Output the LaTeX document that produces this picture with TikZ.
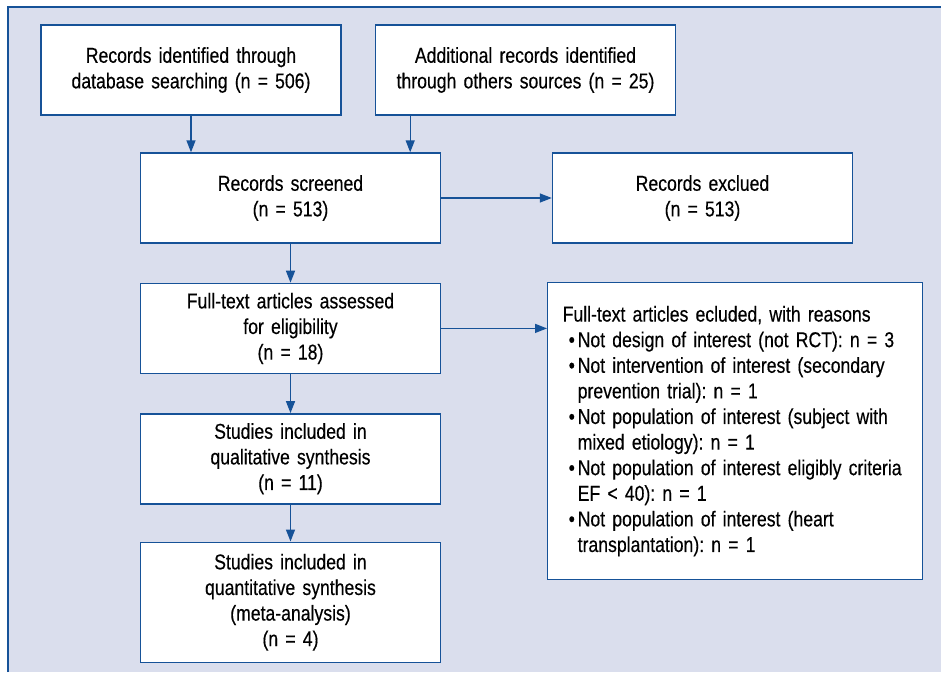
\documentclass[tikz,border=0pt]{standalone}
\usepackage{fontspec}
\setmainfont{Liberation Sans}[FakeStretch=0.82,FakeBold=0.35]
\usepackage{tikz}
\usetikzlibrary{positioning,arrows.meta,calc}

\definecolor{panelfill}{RGB}{218,222,237}
\definecolor{flowblue}{RGB}{22,82,152}

\newcommand{\reasonitem}[1]{\par\hangindent=15pt\hangafter=1\noindent\makebox[15pt][l]{\hspace{6pt}\textbullet}#1}

\begin{document}
\begin{tikzpicture}[
    x=1pt, y=-1pt,
    font=\fontsize{21.5}{25.6}\selectfont\frenchspacing,
    stage/.style={rectangle, draw=flowblue, fill=white, line width=1.4pt, minimum width=300pt, minimum height=90pt, text width=285pt, align=center, inner sep=0pt},
    reasons/.style={rectangle, draw=flowblue, fill=white, line width=1.4pt, minimum height=297pt, text width=345pt, inner xsep=15pt, align=left, anchor=north west},
    flow/.style={draw=flowblue, line width=1.4pt, -{Triangle[length=12pt,width=9pt]}}
]
    % panel
    \useasboundingbox (0,0) rectangle (941,672);
    \fill[panelfill] (8,7) rectangle (941,672);
    \draw[flowblue, line width=1.2pt] (8,672) -- (8,7) -- (941,7);

    % identification
    \node[stage] (dbsearch) at (191,70) {Records identified through\\database searching (n = 506)};
    \node[stage] (othersrc) at (525.5,70) {Additional records identified\\through others sources (n = 25)};

    % screening
    \node[stage] (screened) at (290.5,198) {Records screened\\(n = 513)};
    \node[stage] (excluded) at (702.5,198) {Records exclued\\(n = 513)};

    % eligibility and inclusion
    \node[stage, below=39pt of screened] (fulltext) {Full-text articles assessed\\for eligibility\\(n = 18)};
    \node[stage, below=39pt of fulltext] (qualit) {Studies included in\\qualitative synthesis\\(n = 11)};
    \node[stage, below=37pt of qualit, minimum height=120pt] (quantit) {Studies included in\\quantitative synthesis\\(meta-analysis)\\(n = 4)};

    \node[reasons] (whyout) at (547,282) {\hyphenpenalty=10000\exhyphenpenalty=10000 Full-text articles ecluded, with reasons
        \reasonitem{Not design of interest (not RCT): n = 3}
        \reasonitem{Not intervention of interest (secondary prevention trial): n = 1}
        \reasonitem{Not population of interest (subject with mixed etiology): n = 1}
        \reasonitem{Not population of interest eligibly criteria EF < 40): n = 1}
        \reasonitem{Not population of interest (heart transplantation): n = 1}\par};

    % connectors
    \draw[flow] (dbsearch.south) -- (dbsearch.south |- screened.north);
    \coordinate (othersin) at ([xshift=-31pt]screened.north east);
    \draw[flow] (othersin |- othersrc.south) -- (othersin);
    \draw[flow] (screened) -- (excluded);
    \draw[flow] (fulltext.east) -- (fulltext.east -| whyout.west);
    \draw[flow] (screened) -- (fulltext);
    \draw[flow] (fulltext) -- (qualit);
    \draw[flow] (qualit) -- (quantit);
\end{tikzpicture}
\end{document}
